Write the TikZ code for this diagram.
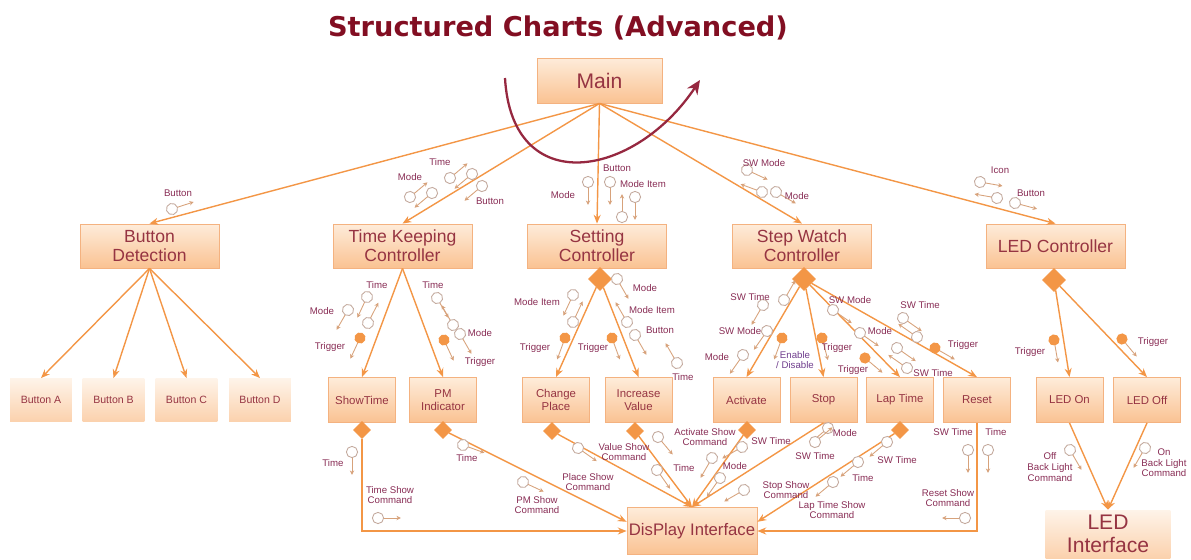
\documentclass[tikz,border=0pt]{standalone}
\usepackage{fontspec}
\setmainfont{Liberation Sans}
\newfontfamily\titlefont{DejaVu Sans}
\usepackage{tikz}
\usetikzlibrary{shapes.geometric, arrows.meta, positioning, calc}
\definecolor{mytitle}{RGB}{130,14,34}
\definecolor{mytext}{RGB}{150,52,66}
\definecolor{mylabel}{RGB}{136,44,84}
\definecolor{myblue}{RGB}{110,60,140}
\definecolor{myorange}{RGB}{243,150,70}
\definecolor{myframe}{RGB}{244,178,128}
\definecolor{boxtop}{RGB}{254,236,218}
\definecolor{boxbot}{RGB}{250,194,146}
\definecolor{mycurve}{RGB}{150,40,64}
\definecolor{ringgray}{RGB}{196,170,158}
\tikzset{
  module/.style={rectangle, draw=myframe, top color=boxtop, bottom color=boxbot,
    align=center, text=mytext, inner sep=1pt, line width=0.5pt},
  topbox/.style={module, minimum width=2.5cm, minimum height=0.9cm,
    font=\fontsize{12}{13}\selectfont},
  midbox/.style={module, minimum width=2.78cm, minimum height=0.88cm,
    font=\fontsize{10}{11}\selectfont},
  lowbox/.style={module, minimum width=1.34cm, minimum height=0.9cm,
    font=\fontsize{6.5}{7.5}\selectfont},
  btnbox/.style={module, draw=none, top color=boxtop!60!white, bottom color=boxbot!75!white,
    minimum width=1.24cm, minimum height=0.86cm, font=\fontsize{6}{7}\selectfont},
  dispbox/.style={module, minimum width=2.6cm, minimum height=0.94cm,
    font=\fontsize{9.5}{11}\selectfont},
  ledifbox/.style={btnbox, minimum width=2.5cm, minimum height=0.96cm,
    font=\fontsize{12}{13}\selectfont},
  iter/.style={diamond, fill=myorange, draw=myorange, minimum width=0.46cm,
    minimum height=0.46cm, inner sep=0pt},
  smalliter/.style={iter, minimum width=0.34cm, minimum height=0.34cm},
  arrow/.style={-{Stealth[length=5pt, width=4pt]}, color=myorange, line width=0.8pt},
  looparrow/.style={-{Stealth[length=8pt, width=7pt]}, color=mycurve, line width=1.3pt},
  lbl/.style={font=\fontsize{5.5}{6}\selectfont, text=mylabel, align=center, inner sep=0pt},
  ring/.style={draw=ringgray, fill=white, line width=0.5pt},
  tail/.style={-{Stealth[length=2.5pt, width=2.5pt]}, color=ringgray!60!myorange, line width=0.5pt},
  dcouple/.pic={\draw[ring] (0,0) circle (3.2pt); \draw[tail] (3.2pt,0) -- (13pt,0);},
  ccouple/.pic={\fill[myorange] (0,0) circle (3.2pt); \draw[tail] (3.2pt,0) -- (13pt,0);}
}

\begin{document}
\begin{tikzpicture}[x=0.02cm, y=-0.02cm]
  \useasboundingbox (0,0) rectangle (1191,559);
  \node[font=\titlefont\bfseries\fontsize{15.5}{18}\selectfont, text=mytitle] (title) at (558,28) {Structured Charts (Advanced)};
  \node[topbox] (main) at (599.5,80.5) {Main};
  % controllers
  \node[midbox] (btndet) at (149.5,246) {Button\\Detection};
  \node[midbox] (timekeep) at (402.5,246) {Time Keeping\\Controller};
  \node[midbox] (setting) at (597,246) {Setting\\Controller};
  \node[midbox] (stopwatch) at (802,246) {Step Watch\\Controller};
  \node[midbox] (ledctrl) at (1055.5,246) {LED Controller};
  \foreach \n in {btndet, timekeep, setting, stopwatch, ledctrl} \draw[arrow] (main.south) -- (\n.north);
  \node[iter] (setd) at (600,279) {};
  \node[iter] (swd) at (804,279) {};
  \node[iter] (ledd) at (1054,280) {};
  % buttons
  \foreach \lab/\x in {A/41, B/113.5, C/186.5, D/260} {
    \node[btnbox] (btn\lab) at (\x,400) {Button \lab};
    \draw[arrow] (btndet.south) -- (btn\lab.north);
  }
  % modules
  \node[lowbox] (showtime) at (362,400) {ShowTime};
  \node[lowbox] (pmind) at (443,400) {PM\\Indicator};
  \node[lowbox] (chplace) at (556,400) {Change\\Place};
  \node[lowbox] (incval) at (638.5,400) {Increase\\Value};
  \node[lowbox] (activate) at (746.5,400) {Activate};
  \node[lowbox] (stop) at (823.5,400) {Stop};
  \node[lowbox] (laptime) at (900,400) {Lap Time};
  \node[lowbox] (reset) at (977,400) {Reset};
  \node[lowbox] (ledon) at (1069.5,400) {LED On};
  \node[lowbox] (ledoff) at (1147,400) {LED Off};
  \draw[arrow] (timekeep.south) -- (showtime.north);
  \draw[arrow] (timekeep.south) -- (pmind.north);
  \foreach \n in {chplace, incval} \draw[arrow] (setd) -- (\n.north);
  \foreach \n in {activate, stop, laptime, reset} \draw[arrow] (swd) -- (\n.north);
  \foreach \n in {ledon, ledoff} \draw[arrow] (ledd) -- (\n.north);
  \node[smalliter] (std) at (362,430) {};
  \node[smalliter] (pmd) at (443,430) {};
  \node[smalliter] (cpd) at (552,431) {};
  \node[smalliter] (ivd) at (635,431) {};
  \node[smalliter] (acd) at (747,430) {};
  \node[smalliter] (ltd) at (900,430) {};
  % interfaces
  \node[dispbox] (disp) at (692,531) {DisPlay Interface};
  \node[ledifbox] (ledif) at (1108,534) {LED\\Interface};
  \draw[arrow] (std) |- (disp.west);
  \draw[arrow] (pmd) -- (disp.172);
  \foreach \n in {cpd, ivd, acd, stop.south} \draw[arrow] (\n) -- (disp.north);
  \draw[arrow] (ltd) -- (disp.8);
  \draw[arrow] (reset.south) |- (disp.east);
  \draw[arrow] (ledon.south) -- (ledif.north);
  \draw[arrow] (ledoff.south) -- (ledif.north);
  % call loop
  \coordinate (loopin) at (505,78);
  \coordinate (loopout) at (700,80);
  \draw[looparrow] (loopin) .. controls (512,200) and (635,178) .. (loopout);
  % data couples
  \foreach \x/\y/\a in {172/209/18, 450/178/40, 472/174/220, 410/197/40, 432/193/220, 482/186/220,
      588/182/-90, 610/182/-90, 622/217/90, 635/197/-90, 747/170/-25, 762/192/160, 776/192/-30,
      980/182/-10, 997/198/170, 1015/203/-15,
      367/297/-115, 368/323/63, 348/310/-120, 437/298/-60, 453/325/120, 460/334/-60,
      573/295/-115, 573/322/65, 617/279/-60, 627/322/120, 635/335/-60, 677/363/120,
      763/305/-120, 784/300/60, 767/331/-125, 743/355/-125,
      833/310/-35, 860/333/-35, 903/318/-35, 917/337/145, 897/348/-35, 907/368/145,
      352/452/-90, 378/518/0, 463/445/-20, 523/482/-25, 578/448/-35, 658/437/-50, 657/470/-55,
      712/458/-120, 742/447/-150, 720/478/-125, 744/490/-150, 828/428/-140, 815/442/40,
      887/442/-140, 858/462/-140, 833/482/-140, 968/450/-90, 988/450/-90, 965/518/180,
      1070/450/-60, 1145/448/-120}
    \pic[rotate=\a] at (\x,\y) {dcouple};
  % control couples
  \foreach \x/\y/\a in {360/338/-115, 444/340/-65, 565/338/-110, 612/338/-70, 782/338/-110,
      822/338/-75, 865/358/-40, 935/348/-30, 1054/340/-80, 1122/339/-50}
    \pic[rotate=\a] at (\x,\y) {ccouple};
  % couple labels
  \foreach \x/\y/\t [count=\i] in {178/193/Button, 440/162/Time, 410/177/Mode,
      490/201/Button, 617/168/Button, 563/195/Mode, 643/184/Mode Item,
      764/163/SW Mode, 797/196/Mode, 1000/170/Icon, 1031/193/Button,
      377/285/Time, 322/311/Mode, 330/347/Trigger, 433/285/Time, 480/333/Mode,
      480/362/Trigger, 537/302/Mode Item, 535/348/Trigger, 593/348/Trigger,
      645/288/Mode, 652/310/Mode Item, 660/330/Button, 683/377/Time,
      750/297/SW Time, 740/331/SW Mode, 717/357/Mode,
      837/348/Trigger, 850/300/SW Mode, 880/331/Mode, 853/370/Trigger,
      920/305/SW Time, 933/373/SW Time, 963/345/Trigger, 1030/352/Trigger,
      1153/342/Trigger, 333/463/Time, 390/495/{Time Show\\Command}, 467/458/Time,
      537/505/{PM Show\\Command}, 588/482/{Place Show\\Command},
      624/452/{Value Show\\Command}, 684/468/Time, 705/437/{Activate Show\\Command},
      771/441/SW Time, 735/466/Mode, 786/490/{Stop Show\\Command},
      815/456/SW Time, 845/433/Mode, 897/460/SW Time, 863/478/Time,
      832/510/{Lap Time Show\\Command}, 953/432/SW Time, 996/432/Time,
      948/498/{Reset Show\\Command}, 1050/467/{Off\\Back Light\\Command},
      1164/463/{On\\Back Light\\Command}}
    \node[lbl] (lab\i) at (\x,\y) {\t};
  \node[lbl, text=myblue] (enable) at (795,360) {Enable\\/ Disable};
\end{tikzpicture}
\end{document}
